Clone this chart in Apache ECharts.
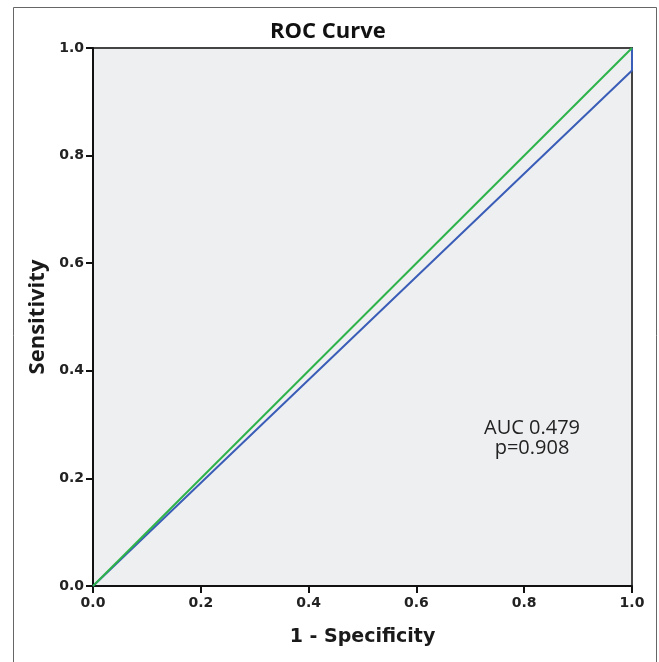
<!DOCTYPE html>
<html><head><meta charset="utf-8">
<script src="https://cdn.jsdelivr.net/npm/echarts@6/dist/echarts.min.js"></script>
<style>html,body{margin:0;padding:0;background:#fff}#c{width:659px;height:662px}</style>
</head><body><div id="c"></div>
<script>
const xTicks = [0.0, 0.2, 0.4, 0.6, 0.8, 1.0];
const yTicks = [0.0, 0.2, 0.4, 0.6, 0.8, 1.0];
const rocX = [0.0, 1.0, 1.0];
const rocY = [0.0, 0.958, 1.0];
const refX = [0.0, 1.0];
const refY = [0.0, 1.0];
const annotation = ['AUC 0.479', 'p=0.908'];

const chart = echarts.init(document.getElementById('c'));
const labelStyle = {color: '#222', fontFamily: 'DejaVu Sans', fontSize: 14, fontWeight: 'bold',
  formatter: v => v.toFixed(1)};
const axisCommon = {
  type: 'value', min: 0, max: 1, interval: 0.2,
  axisLine: {show: true, onZero: false, lineStyle: {color: '#111', width: 2}},
  axisTick: {show: true, length: 7, lineStyle: {color: '#111', width: 2}},
  splitLine: {show: false}
};
chart.setOption({
  animation: false,
  title: {text: 'ROC Curve', left: 265, top: 16,
    textStyle: {fontFamily: 'Open Sans', fontSize: 22, fontWeight: 'bold', color: '#111'}},
  grid: {left: 93, top: 48, width: 539, height: 538, show: true,
    backgroundColor: '#eeeff1', borderColor: '#444', borderWidth: 2},
  xAxis: Object.assign({}, axisCommon, {name: '1 - Specificity', nameLocation: 'middle', nameGap: 42,
    nameTextStyle: {color: '#1a1a1a', fontFamily: 'DejaVu Sans', fontSize: 19, fontWeight: 'bold'},
    axisLabel: Object.assign({}, labelStyle, {margin: 10})}),
  yAxis: Object.assign({}, axisCommon, {name: 'Sensitivity', nameLocation: 'middle', nameGap: 44,
    nameTextStyle: {color: '#1a1a1a', fontFamily: 'Open Sans', fontSize: 22, fontWeight: 'bold'},
    axisLabel: Object.assign({}, labelStyle, {margin: 9})}),
  graphic: [
    {type: 'rect', shape: {x: 13.5, y: 7.5, width: 643, height: 700},
      style: {fill: 'none', stroke: '#666', lineWidth: 1}, silent: true, z: 100},
    {type: 'text', x: 532, y: 418,
      style: {text: annotation.join('\n'), fontFamily: 'Open Sans', fontSize: 20, fill: '#222',
        align: 'center', verticalAlign: 'top', lineHeight: 20}}
  ],
  series: [
    {type: 'line', data: refX.map((x, i) => [x, refY[i]]), symbol: 'none',
      lineStyle: {color: '#2db34a', width: 2}, z: 3},
    {type: 'line', data: rocX.map((x, i) => [x, rocY[i]]), symbol: 'none',
      lineStyle: {color: '#3a5db8', width: 2}, z: 2}
  ]
});
</script></body></html>
